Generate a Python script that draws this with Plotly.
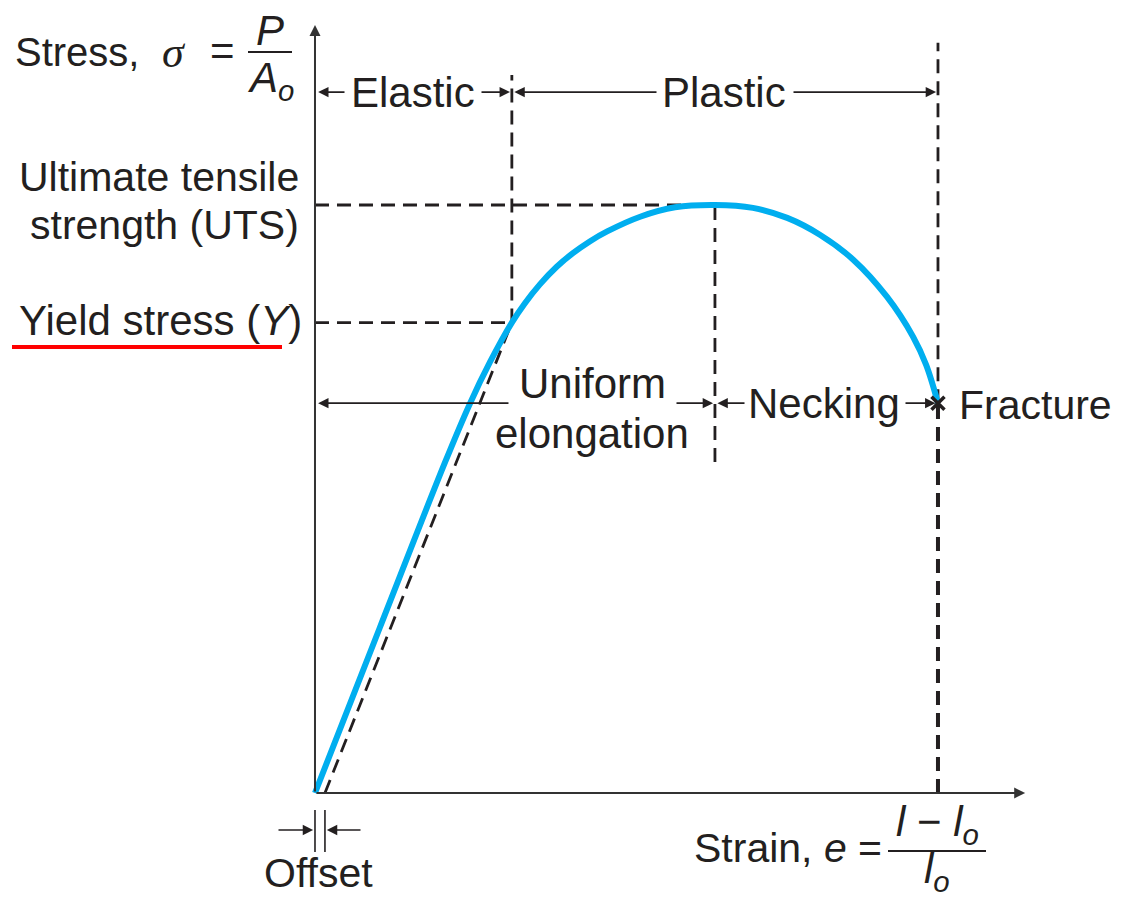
import plotly.graph_objects as go

# Engineering stress-strain curve (normalised: UTS = 1, fracture strain = 1)
strain = [0.0, 0.104, 0.209, 0.249, 0.281, 0.316, 0.337, 0.361, 0.388, 0.414, 0.441,
          0.469, 0.522, 0.578, 0.642, 0.703, 0.758, 0.811, 0.864, 0.918, 0.960, 0.981, 1.0]
stress = [0.0, 0.281, 0.563, 0.663, 0.733, 0.800, 0.833, 0.865, 0.895, 0.918, 0.938,
          0.955, 0.980, 0.996, 1.0, 0.995, 0.978, 0.949, 0.907, 0.844, 0.776, 0.728, 0.663]

yield_strain, yield_stress = 0.316, 0.800
uts_strain, uts_stress = 0.642, 1.0
fracture_strain, fracture_stress = 1.0, 0.663
offset_strain = 0.016

# Drawing extents in data units
X_MIN, X_MAX = -0.5056, 1.3018
Y_MIN, Y_MAX = -0.1769, 1.3486
Y_AXIS_TOP = 1.306
X_AXIS_END = 1.14
REGION_Y = 1.192      # level of the Elastic / Plastic arrows
TOP_DASH = 1.276      # top of the fracture guide line
YIELD_GUIDE_TOP = 1.221
UTS_GUIDE_BOTTOM = 0.563

W, H = 1126, 897
FONT = "Liberation Sans, Arial, Helvetica, sans-serif"
SERIF = "Liberation Serif, Times New Roman, serif"
INK = "#231f20"
BLUE = "#00aeef"
FS = 42


def px_x(px):
    return X_MIN + (X_MAX - X_MIN) * px / W


def px_y(py):
    return Y_MAX - (Y_MAX - Y_MIN) * py / H


fig = go.Figure()

dash_style = dict(color=INK, width=2.8, dash="14px,8px")

# Guide lines
guides = [
    ([0, uts_strain], [uts_stress, uts_stress]),
    ([0, yield_strain], [yield_stress, yield_stress]),
    ([yield_strain, yield_strain], [yield_stress, YIELD_GUIDE_TOP]),
    ([uts_strain, uts_strain], [UTS_GUIDE_BOTTOM, uts_stress]),
    ([fracture_strain, fracture_strain], [fracture_stress, TOP_DASH]),
    ([offset_strain, yield_strain], [0, yield_stress]),
]
for gx, gy in guides:
    fig.add_trace(go.Scatter(x=gx, y=gy, mode="lines", line=dash_style,
                             hoverinfo="skip", showlegend=False))

fig.add_trace(go.Scatter(x=[fracture_strain, fracture_strain], y=[0, fracture_stress],
                         mode="lines", line=dict(color=INK, width=4, dash="14px,8px"),
                         hoverinfo="skip", showlegend=False))

# Stress-strain curve
fig.add_trace(go.Scatter(x=strain, y=stress, mode="lines",
                         line=dict(color=BLUE, width=6, shape="spline", smoothing=1.0),
                         hoverinfo="skip", showlegend=False))

# Fracture marker
fig.add_trace(go.Scatter(x=[fracture_strain], y=[fracture_stress], mode="markers",
                         marker=dict(symbol="x-thin", size=13, line=dict(color=INK, width=3.5)),
                         hoverinfo="skip", showlegend=False))

annotations = []


def arrow(x_head, y_head, x_tail, y_tail, width=1.6, color=INK, size=1.3):
    annotations.append(dict(x=x_head, y=y_head, ax=x_tail, ay=y_tail,
                            xref="x", yref="y", axref="x", ayref="y",
                            showarrow=True, arrowhead=2, arrowsize=size,
                            arrowwidth=width, arrowcolor=color, text=""))


def label(text, x, y, xanchor="center", size=FS, family=FONT):
    annotations.append(dict(x=x, y=y, xref="x", yref="y", text=text, showarrow=False,
                            xanchor=xanchor, yanchor="middle",
                            font=dict(family=family, size=size, color=INK)))


# Axes with arrowheads
arrow(0, Y_AXIS_TOP, 0, 0, width=2, color="#333333", size=1.1)
arrow(X_AXIS_END, 0, 0, 0, width=2, color="#333333", size=1.1)

# Elastic / Plastic ranges
arrow(0.005, REGION_Y, px_x(346), REGION_Y)
arrow(yield_strain - 0.003, REGION_Y, px_x(480), REGION_Y)
label("Elastic", px_x(413), REGION_Y)
arrow(yield_strain + 0.004, REGION_Y, px_x(658), REGION_Y)
arrow(fracture_strain - 0.003, REGION_Y, px_x(792), REGION_Y)
label("Plastic", px_x(724), REGION_Y)

# Uniform elongation / Necking ranges
arrow(0.005, fracture_stress, yield_strain - 0.003, fracture_stress)
arrow(uts_strain - 0.003, fracture_stress, px_x(675), fracture_stress)
label("Uniform", px_x(592), px_y(383))
label("elongation", px_x(592), px_y(433))
arrow(uts_strain + 0.004, fracture_stress, px_x(746), fracture_stress)
arrow(fracture_strain - 0.004, fracture_stress, px_x(904), fracture_stress)
label("Necking", px_x(824), fracture_stress)
label("Fracture", px_x(957), px_y(405), xanchor="left", size=41)

# Stress label with fraction
label("Stress,", px_x(141), px_y(52), xanchor="right", size=40)
label("<i>σ</i>", px_x(174), px_y(52), family=SERIF, size=44)
label("=", px_x(222), px_y(50))
label("<i>P</i>", px_x(270), px_y(30))
label("<i>A<sub>o</sub></i>", px_x(270), px_y(80))

# Left-side value labels
label("Ultimate tensile", px_x(301), px_y(177), xanchor="right", size=41)
label("strength (UTS)", px_x(301), px_y(225), xanchor="right", size=41)
label("Yield stress (<i>Y</i>)", px_x(304), px_y(320), xanchor="right")

# Strain label with fraction
label("Strain, <i>e</i> =", px_x(884), px_y(848), xanchor="right", size=41)
label("<i>l</i> − <i>l<sub>o</sub></i>", px_x(937), px_y(824))
label("<i>l<sub>o</sub></i>", px_x(937), px_y(871))

# Offset indicator
label("Offset", px_x(318), px_y(873), size=41)
arrow(-0.003, px_y(830), px_x(277), px_y(830))
arrow(offset_strain + 0.003, px_y(830), px_x(362), px_y(830))

shapes = [
    dict(type="line", xref="x", yref="y", x0=px_x(248), x1=px_x(292), y0=px_y(52), y1=px_y(52),
         line=dict(color=INK, width=2)),
    dict(type="line", xref="x", yref="y", x0=px_x(888), x1=px_x(986), y0=px_y(851), y1=px_y(851),
         line=dict(color=INK, width=2)),
    dict(type="line", xref="x", yref="y", x0=0, x1=0, y0=px_y(810), y1=px_y(852),
         line=dict(color=INK, width=1.6)),
    dict(type="line", xref="x", yref="y", x0=offset_strain, x1=offset_strain, y0=px_y(810), y1=px_y(852),
         line=dict(color=INK, width=1.6)),
    dict(type="line", xref="x", yref="y", x0=px_x(12), x1=px_x(282), y0=px_y(347), y1=px_y(347),
         line=dict(color="#ff0000", width=4)),
]

fig.update_layout(
    width=W, height=H,
    margin=dict(l=0, r=0, t=0, b=0),
    paper_bgcolor="white", plot_bgcolor="white",
    xaxis=dict(range=[X_MIN, X_MAX], visible=False, fixedrange=True),
    yaxis=dict(range=[Y_MIN, Y_MAX], visible=False, fixedrange=True),
    annotations=annotations,
    shapes=shapes,
    showlegend=False,
)

fig.write_html("out.html")
